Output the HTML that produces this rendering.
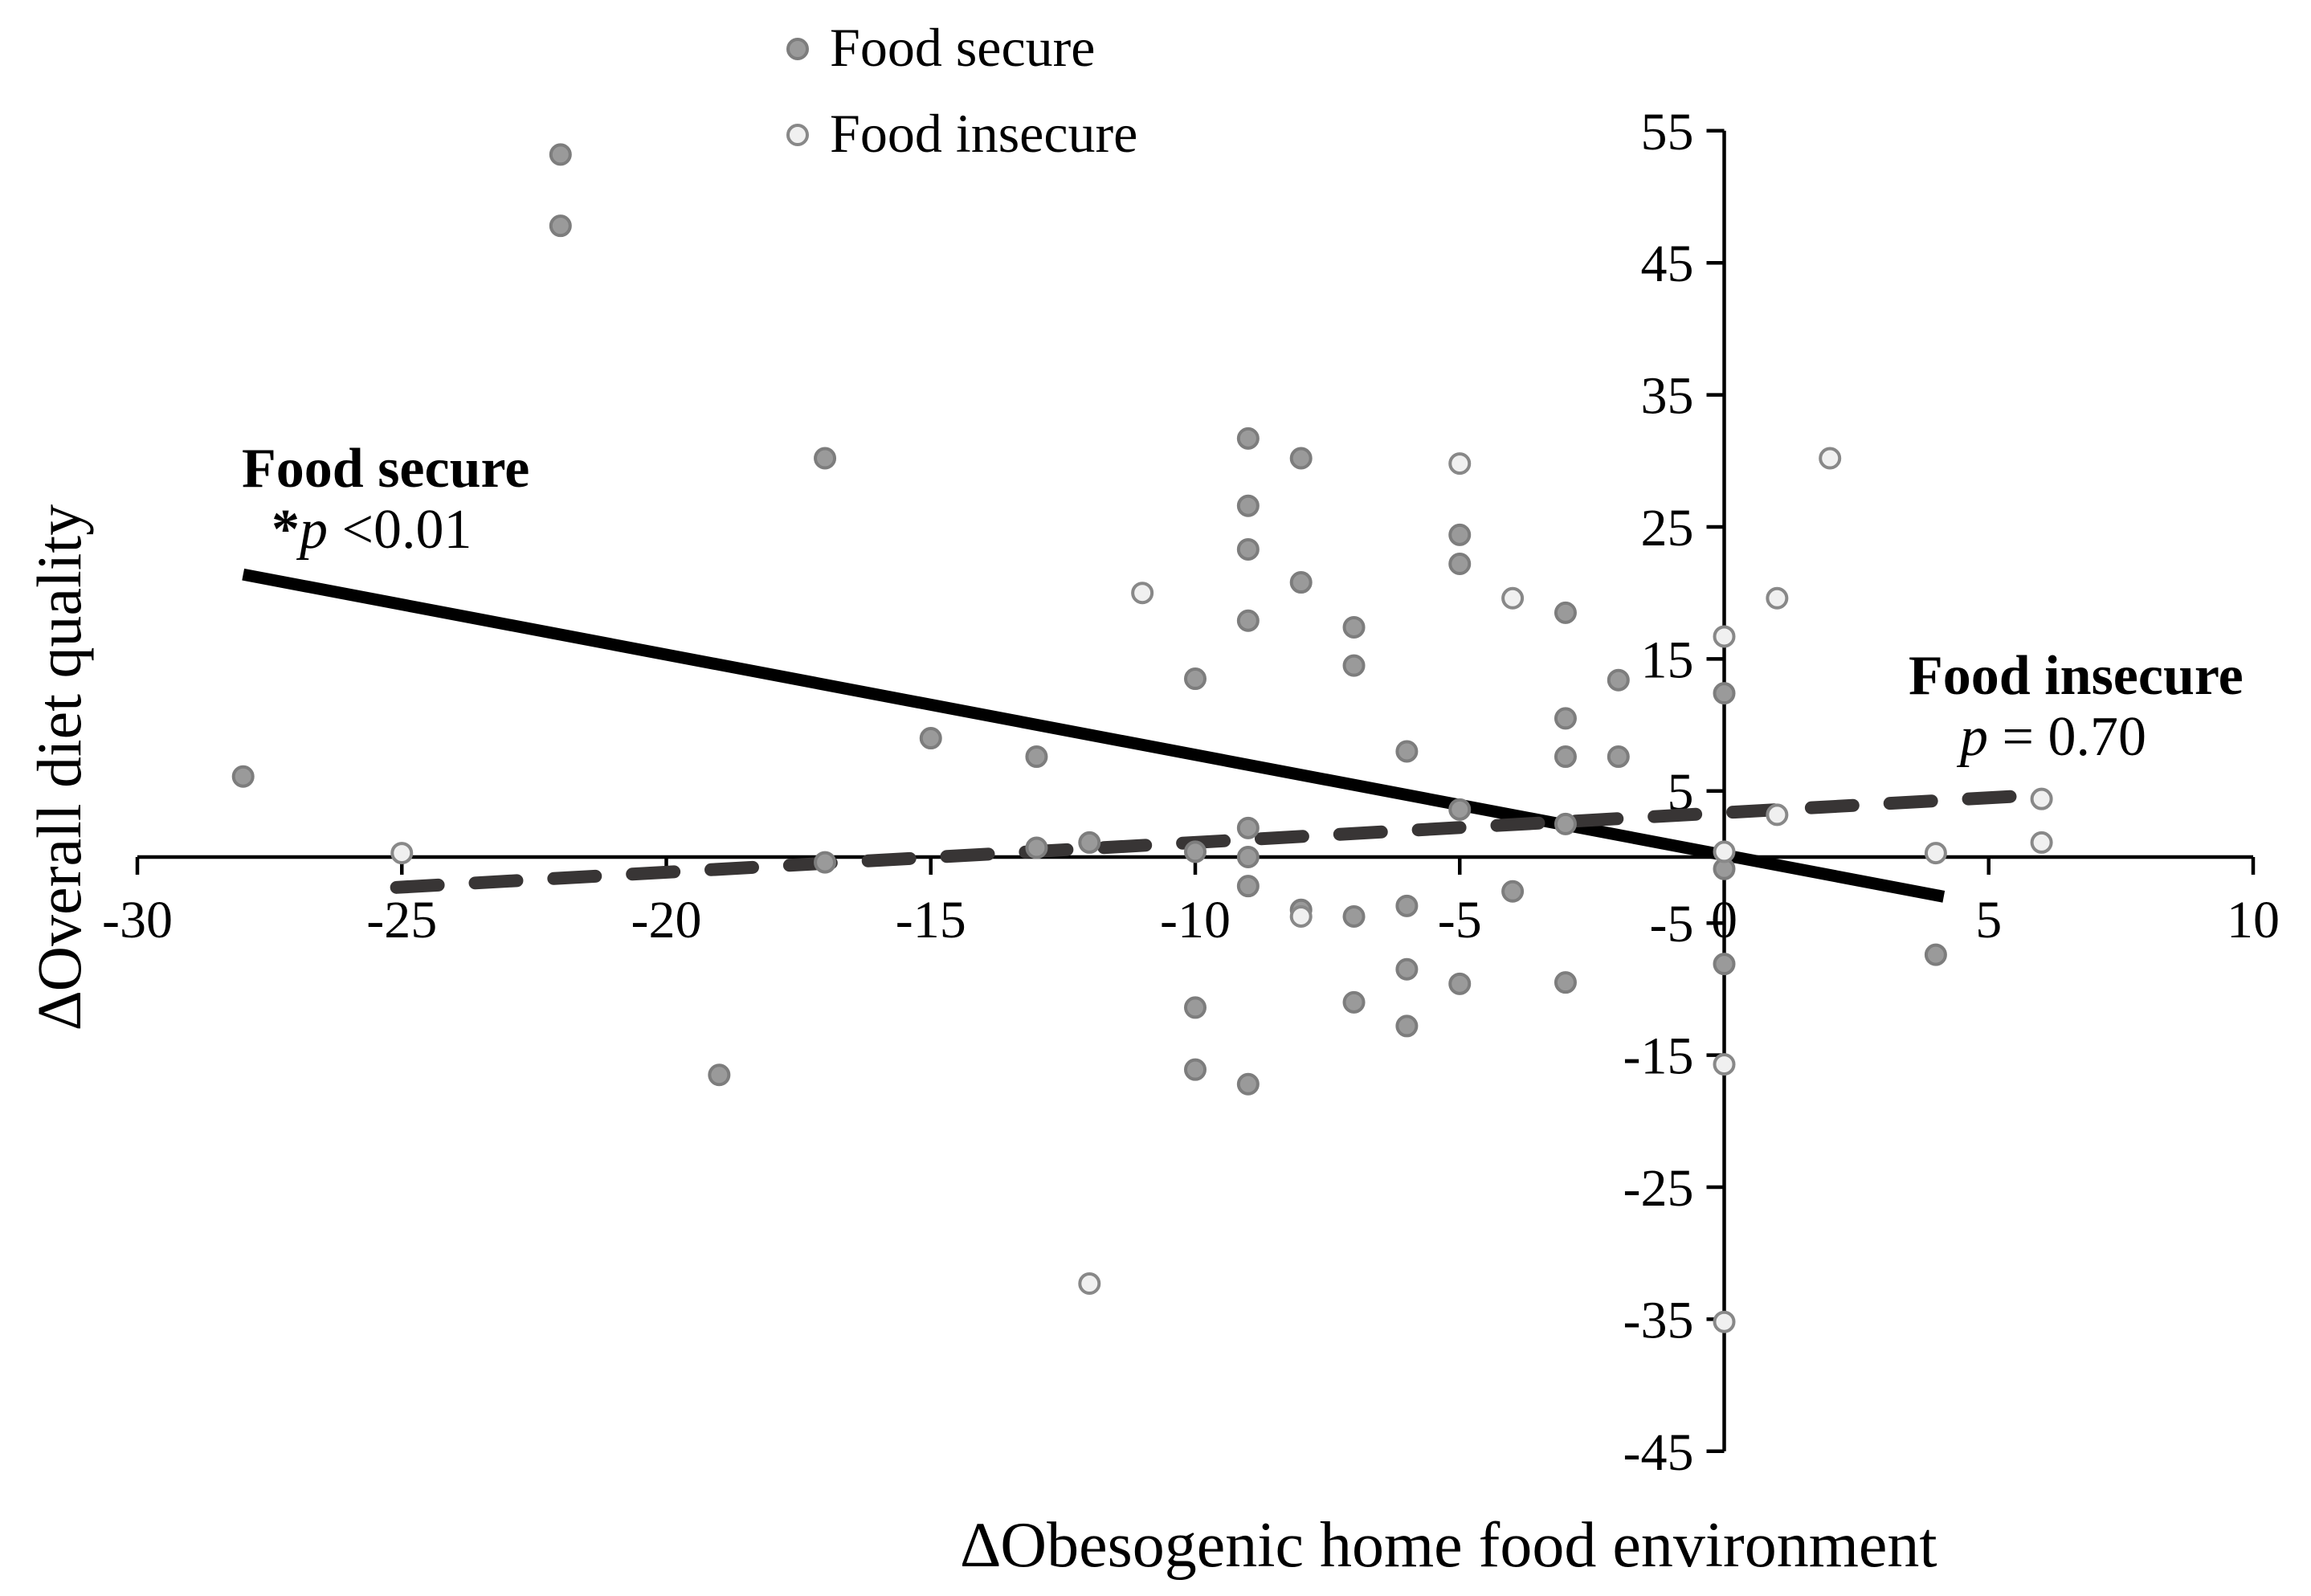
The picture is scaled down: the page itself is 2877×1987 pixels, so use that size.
<!DOCTYPE html>
<html><head><meta charset="utf-8"><style>
html,body{margin:0;padding:0;background:#fff}
svg{display:block;font-family:"Liberation Serif",serif}
</style></head><body>
<svg id="chart" width="2877" height="1987" viewBox="0 0 2877 1987" xmlns="http://www.w3.org/2000/svg">
<g id="axes"></g>
<g id="lines"></g>
<g id="points"></g>
<g>
  <circle cx="993" cy="61" r="12" fill="#9a9a9a" stroke="#7d7d7d" stroke-width="4"/>
  <text x="1033" y="82" font-size="68">Food secure</text>
  <circle cx="993" cy="168" r="12" fill="#f0f0f0" stroke="#888" stroke-width="4"/>
  <text x="1033" y="189" font-size="68">Food insecure</text>
</g>
<text x="301" y="606" font-size="70" font-weight="bold">Food secure</text>
<text x="338" y="682" font-size="70"><tspan font-weight="bold">*</tspan><tspan font-style="italic">p</tspan> &lt;0.01</text>
<text x="2376" y="864" font-size="70" font-weight="bold">Food insecure</text>
<text x="2440" y="940" font-size="70"><tspan font-style="italic">p</tspan> = 0.70</text>
<text x="1804" y="1950" font-size="80" text-anchor="middle">∆Obesogenic  home food environment</text>
<text transform="translate(100,955) rotate(-90)" font-size="78" text-anchor="middle">∆Overall  diet quality</text>
</svg>
<script>
const xTicks = [-30,-25,-20,-15,-10,-5,0,5,10];
const yTicks = [55,45,35,25,15,5,-5,-15,-25,-35,-45];
const secureX = [-28,-22,-22,-17,-17,-15,-13,-13,-12,-10,-10,-10,-10,-9,-9,-9,-9,-9,-9,-9,-9,-8,-8,-8,-7,-7,-7,-7,-6,-6,-6,-6,-5,-5,-5,-5,-4,-3,-3,-3,-3,-3,-2,-2,0,0,0,4,-19];
const secureY = [6.1,53.2,47.8,30.2,-0.4,9,7.6,0.7,1.1,13.5,0.4,-11.4,-16.1,31.7,26.6,23.3,17.9,2.2,0,-2.2,-17.2,30.2,20.8,-4,17.4,14.5,-4.5,-11,8,-3.7,-8.5,-12.8,24.4,22.2,3.6,-9.6,-2.6,18.5,10.5,7.6,2.5,-9.5,13.4,7.6,12.4,-0.9,-8.1,-7.4,-16.5];
const insecureX = [-25,-11,-12,-8,-5,-4,0,0,0,0,1,1,2,4,6,6];
const insecureY = [0.3,20,-32.3,-4.5,29.8,19.6,16.7,0.4,-15.7,-35.2,19.6,3.2,30.2,0.3,4.4,1.1];
const secureFitX = [-28,4.15];
const secureFitY = [21.4,-3.0];
const insecureFitX = [-25.1,5.5];
const insecureFitY = [-2.3,4.6];

const NS='http://www.w3.org/2000/svg';
function xs(v){return 171+(v+30)*65.85;}
function ys(v){return 1067-v*16.44;}
function mk(tag,attrs,parent){const e=document.createElementNS(NS,tag);for(const k in attrs)e.setAttribute(k,attrs[k]);parent.appendChild(e);return e;}
const axes=document.getElementById('axes');
const x0=xs(0), y0=ys(0);
let a=mk('line',{x1:xs(-30),x2:xs(10),y1:y0,y2:y0,stroke:'#000','stroke-width':4.5},axes);


a=mk('line',{x1:x0,x2:x0,y1:ys(55),y2:ys(-45),stroke:'#000','stroke-width':4.5},axes);


xTicks.forEach(t=>{
  const l=mk('line',{x1:xs(t),x2:xs(t),y1:y0,y2:y0+22,stroke:'#000','stroke-width':4.5},axes);
  
  
  const tx=mk('text',{x:xs(t),y:y0+100,'font-size':66,'text-anchor':'middle'},axes);
  
  
  tx.textContent=t;
});
yTicks.forEach(t=>{
  const l=mk('line',{x1:x0-22,x2:x0,y1:ys(t),y2:ys(t),stroke:'#000','stroke-width':4.5},axes);
  
  
  const tx=mk('text',{x:x0-38,y:ys(t)+23,'font-size':66,'text-anchor':'end'},axes);
  
  
  tx.textContent=t;
});
const pts=document.getElementById('points');
secureX.forEach((v,i)=>{
  const c=mk('circle',{cx:xs(v),cy:ys(secureY[i]),r:12,fill:'#9a9a9a',stroke:'#7d7d7d','stroke-width':4},pts);
  
  
});
insecureX.forEach((v,i)=>{
  const c=mk('circle',{cx:xs(v),cy:ys(insecureY[i]),r:12,fill:'#f0f0f0',stroke:'#888','stroke-width':4},pts);
  
  
});
const lines=document.getElementById('lines');
let ln=mk('line',{x1:xs(secureFitX[0]),y1:ys(secureFitY[0]),x2:xs(secureFitX[1]),y2:ys(secureFitY[1]),stroke:'#000','stroke-width':15},lines);


ln=mk('line',{x1:xs(insecureFitX[0]),y1:ys(insecureFitY[0]),x2:xs(insecureFitX[1]),y2:ys(insecureFitY[1]),stroke:'#383535','stroke-width':16,'stroke-dasharray':'52 46','stroke-linecap':'round'},lines);


</script>
</body></html>
